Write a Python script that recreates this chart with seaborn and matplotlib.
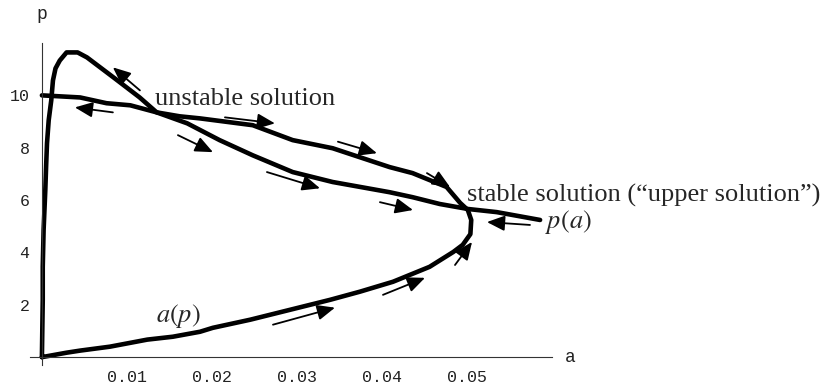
import matplotlib
matplotlib.use("Agg")
import matplotlib.pyplot as plt
import seaborn as sns
import pandas as pd

# p(a): almost straight branch, from a=0 through both crossings to the right end
pa_a = [0.0, 0.0045, 0.0076, 0.0104, 0.0135, 0.0171, 0.0209, 0.0248, 0.0295,
        0.0342, 0.0409, 0.0436, 0.0468, 0.0501, 0.0535, 0.0586]
pa_p = [10.0, 9.92, 9.70, 9.62, 9.35, 8.93, 8.29, 7.71, 7.07,
        6.69, 6.30, 6.11, 5.85, 5.66, 5.54, 5.24]

# a(p): closed loop, starting at the origin, along the bottom, back over the top
ap_a = [0.0, 0.0029, 0.0045, 0.0080, 0.0124, 0.0154, 0.0186, 0.0201, 0.0245,
        0.0292, 0.0339, 0.0374, 0.0413, 0.0456, 0.0484, 0.0495, 0.0504, 0.0505,
        0.0501, 0.0492, 0.0476, 0.0436, 0.0409, 0.0342, 0.0295, 0.0248, 0.0186,
        0.0162, 0.0135, 0.0115, 0.0084, 0.0053, 0.0042, 0.0029, 0.0021, 0.0016,
        0.0013, 0.0011, 0.0008, 0.0006, 0.0005, 0.0004, 0.0002, 0.0001, 0.0001, 0.0]
ap_p = [0.0, 0.17, 0.25, 0.40, 0.67, 0.78, 0.97, 1.12, 1.43,
        1.81, 2.19, 2.50, 2.88, 3.45, 4.02, 4.29, 4.70, 5.24,
        5.62, 5.89, 6.50, 7.03, 7.26, 7.98, 8.29, 8.86, 9.12,
        9.20, 9.35, 9.92, 10.69, 11.45, 11.64, 11.64, 11.33, 11.03,
        10.57, 9.81, 9.05, 8.17, 7.33, 6.38, 4.86, 3.45, 2.19, 0.0]

# flow arrows (tail -> head)
arrow_tail_a = [0.01153, 0.00835, 0.02153, 0.0160, 0.03482, 0.02647, 0.04529, 0.03976,
                0.05741, 0.04859, 0.04012, 0.02718]
arrow_tail_p = [10.19, 9.35, 9.16, 8.48, 8.23, 7.07, 7.03, 5.92, 5.05, 3.52, 2.38, 1.24]
arrow_head_a = [0.00835, 0.00388, 0.02741, 0.02012, 0.03941, 0.03271, 0.0480, 0.04365,
                0.05235, 0.05059, 0.04506, 0.03447]
arrow_head_p = [11.07, 9.54, 8.93, 7.83, 7.79, 6.45, 6.50, 5.62, 5.16, 4.40, 3.03, 1.89]

x_ticks = [0.01, 0.02, 0.03, 0.04, 0.05]
y_ticks = [2, 4, 6, 8, 10]

sns.set_style("white")
plt.rcParams["mathtext.fontset"] = "stix"

df_pa = pd.DataFrame({"a": pa_a, "p": pa_p})
df_ap = pd.DataFrame({"a": ap_a, "p": ap_p})

fig = plt.figure(figsize=(8.25, 3.87), dpi=100)
fig.patch.set_facecolor("white")
ax = fig.add_axes([30 / 825, 22 / 387, 522 / 825, 322 / 387])

sns.lineplot(data=df_pa, x="a", y="p", sort=False, estimator=None,
             color="black", linewidth=3.3, ax=ax)
sns.lineplot(data=df_ap, x="a", y="p", sort=False, estimator=None,
             color="black", linewidth=3.3, ax=ax)

for ta, tp, ha_, hp in zip(arrow_tail_a, arrow_tail_p, arrow_head_a, arrow_head_p):
    ax.annotate("", xy=(ha_, hp), xytext=(ta, tp),
                arrowprops=dict(arrowstyle="-|>,head_length=0.6,head_width=0.26",
                                mutation_scale=18, color="black", lw=1.3,
                                shrinkA=0, shrinkB=0))

ax.set_xlim(-0.0014, 0.06)
ax.set_ylim(-0.3, 12.0)
ax.spines["left"].set_position(("data", 0))
ax.spines["bottom"].set_position(("data", 0))
ax.spines["top"].set_visible(False)
ax.spines["right"].set_visible(False)
for s in ["left", "bottom"]:
    ax.spines[s].set_linewidth(0.8)
    ax.spines[s].set_color("#333333")

ax.set_xticks(x_ticks)
ax.set_xticklabels([f"{v:.2f}" for v in x_ticks])
ax.set_yticks(y_ticks)
ax.set_yticklabels([str(v) for v in y_ticks])
ax.set_xticks([i * 0.002 for i in range(1, 30) if i % 5], minor=True)
ax.set_yticks([i * 0.5 for i in range(1, 24) if i % 4], minor=True)
ax.tick_params(which="major", direction="in", length=5, width=0.8, color="#333333",
               labelsize=12, labelcolor="#222222")
ax.tick_params(which="minor", direction="in", length=3, width=0.6, color="#333333")
ax.tick_params(axis="x", pad=9)
ax.tick_params(axis="y", pad=9)
for lab in ax.get_xticklabels() + ax.get_yticklabels():
    lab.set_family("Liberation Mono")
ax.set_xlabel("")
ax.set_ylabel("")

ax.text(0.0, 13.07, "p", family="Liberation Mono", fontsize=13, ha="center", va="center",
        color="#222222", clip_on=False)
ax.text(0.0621, 0.0, "a", family="Liberation Mono", fontsize=13, ha="center", va="center",
        color="#222222", clip_on=False)

ax.text(0.0133, 9.63, "unstable solution", family="Liberation Serif", fontsize=19,
        ha="left", va="baseline", clip_on=False)
ax.text(0.0500, 5.94, "stable solution (\u201cupper solution\u201d)", family="Liberation Serif",
        fontsize=19, ha="left", va="baseline", clip_on=False)
ax.text(0.0592, 4.93, "$p(a)$", fontsize=19, ha="left", va="baseline", clip_on=False)
ax.text(0.0134, 1.34, "$a(p)$", fontsize=19, ha="left", va="baseline", clip_on=False)

fig.savefig("out.png", dpi=100, facecolor="white")
